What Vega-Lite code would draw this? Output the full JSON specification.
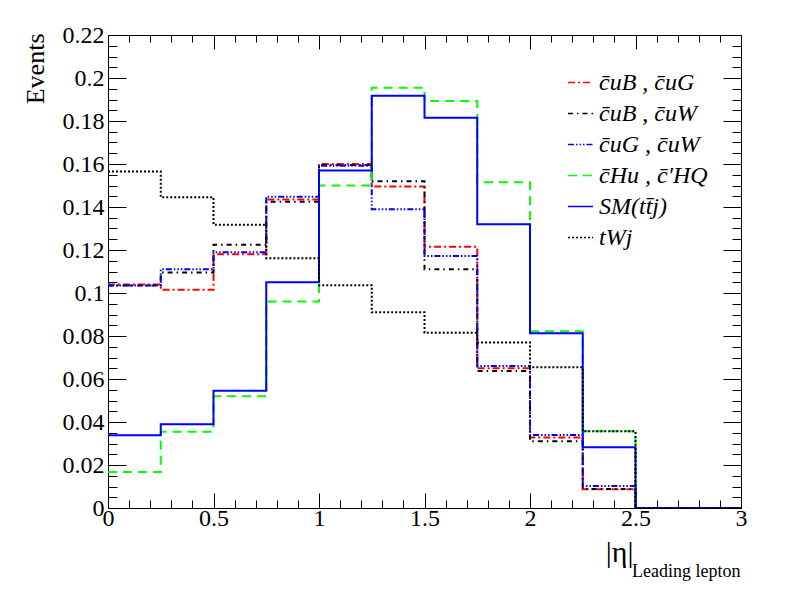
{
  "$schema": "https://vega.github.io/schema/vega-lite/v6.json",
  "autosize": {"type": "none"},
  "width": 633,
  "height": 473,
  "padding": {"left": 108, "top": 35, "right": 47, "bottom": 81},
  "background": "white",
  "config": {
    "view": {"stroke": "black", "strokeWidth": 1},
    "font": "Liberation Serif",
    "axis": {
      "domain": false,
      "grid": false,
      "tickColor": "black",
      "tickWidth": 1,
      "labelFont": "Liberation Serif",
      "labelFontSize": 24,
      "labelColor": "black",
      "titleFont": "Liberation Serif",
      "titleFontWeight": "normal",
      "titleColor": "black"
    },
    "legend": {
      "labelFont": "Liberation Serif",
      "labelFontStyle": "italic",
      "labelFontSize": 24,
      "labelColor": "black"
    }
  },
  "data": {
    "values": [
      {"s": "c̄uB , c̄uG", "x": 0, "y": 0.104},
      {"s": "c̄uB , c̄uG", "x": 0.25, "y": 0.1015},
      {"s": "c̄uB , c̄uG", "x": 0.5, "y": 0.118},
      {"s": "c̄uB , c̄uG", "x": 0.75, "y": 0.1435},
      {"s": "c̄uB , c̄uG", "x": 1.0, "y": 0.16},
      {"s": "c̄uB , c̄uG", "x": 1.25, "y": 0.1495},
      {"s": "c̄uB , c̄uG", "x": 1.5, "y": 0.1215},
      {"s": "c̄uB , c̄uG", "x": 1.75, "y": 0.065},
      {"s": "c̄uB , c̄uG", "x": 2.0, "y": 0.0328},
      {"s": "c̄uB , c̄uG", "x": 2.25, "y": 0.0087},
      {"s": "c̄uB , c̄uG", "x": 2.5, "y": 0},
      {"s": "c̄uB , c̄uG", "x": 2.75, "y": 0},
      {"s": "c̄uB , c̄uG", "x": 3.0, "y": 0},

      {"s": "c̄uB , c̄uW", "x": 0, "y": 0.1035},
      {"s": "c̄uB , c̄uW", "x": 0.25, "y": 0.1095},
      {"s": "c̄uB , c̄uW", "x": 0.5, "y": 0.1225},
      {"s": "c̄uB , c̄uW", "x": 0.75, "y": 0.1425},
      {"s": "c̄uB , c̄uW", "x": 1.0, "y": 0.1595},
      {"s": "c̄uB , c̄uW", "x": 1.25, "y": 0.152},
      {"s": "c̄uB , c̄uW", "x": 1.5, "y": 0.111},
      {"s": "c̄uB , c̄uW", "x": 1.75, "y": 0.0637},
      {"s": "c̄uB , c̄uW", "x": 2.0, "y": 0.031},
      {"s": "c̄uB , c̄uW", "x": 2.25, "y": 0.0088},
      {"s": "c̄uB , c̄uW", "x": 2.5, "y": 0},
      {"s": "c̄uB , c̄uW", "x": 2.75, "y": 0},
      {"s": "c̄uB , c̄uW", "x": 3.0, "y": 0},

      {"s": "c̄uG , c̄uW", "x": 0, "y": 0.1035},
      {"s": "c̄uG , c̄uW", "x": 0.25, "y": 0.111},
      {"s": "c̄uG , c̄uW", "x": 0.5, "y": 0.119},
      {"s": "c̄uG , c̄uW", "x": 0.75, "y": 0.1448},
      {"s": "c̄uG , c̄uW", "x": 1.0, "y": 0.1592},
      {"s": "c̄uG , c̄uW", "x": 1.25, "y": 0.139},
      {"s": "c̄uG , c̄uW", "x": 1.5, "y": 0.1172},
      {"s": "c̄uG , c̄uW", "x": 1.75, "y": 0.066},
      {"s": "c̄uG , c̄uW", "x": 2.0, "y": 0.034},
      {"s": "c̄uG , c̄uW", "x": 2.25, "y": 0.0102},
      {"s": "c̄uG , c̄uW", "x": 2.5, "y": 0},
      {"s": "c̄uG , c̄uW", "x": 2.75, "y": 0},
      {"s": "c̄uG , c̄uW", "x": 3.0, "y": 0},

      {"s": "c̄Hu , c̄′HQ", "x": 0, "y": 0.0167},
      {"s": "c̄Hu , c̄′HQ", "x": 0.25, "y": 0.0355},
      {"s": "c̄Hu , c̄′HQ", "x": 0.5, "y": 0.052},
      {"s": "c̄Hu , c̄′HQ", "x": 0.75, "y": 0.096},
      {"s": "c̄Hu , c̄′HQ", "x": 1.0, "y": 0.15},
      {"s": "c̄Hu , c̄′HQ", "x": 1.25, "y": 0.1955},
      {"s": "c̄Hu , c̄′HQ", "x": 1.5, "y": 0.1893},
      {"s": "c̄Hu , c̄′HQ", "x": 1.75, "y": 0.1515},
      {"s": "c̄Hu , c̄′HQ", "x": 2.0, "y": 0.0822},
      {"s": "c̄Hu , c̄′HQ", "x": 2.25, "y": 0.0357},
      {"s": "c̄Hu , c̄′HQ", "x": 2.5, "y": 0},
      {"s": "c̄Hu , c̄′HQ", "x": 2.75, "y": 0},
      {"s": "c̄Hu , c̄′HQ", "x": 3.0, "y": 0},

      {"s": "SM(tt̄j)", "x": 0, "y": 0.0338},
      {"s": "SM(tt̄j)", "x": 0.25, "y": 0.039},
      {"s": "SM(tt̄j)", "x": 0.5, "y": 0.0545},
      {"s": "SM(tt̄j)", "x": 0.75, "y": 0.105},
      {"s": "SM(tt̄j)", "x": 1.0, "y": 0.157},
      {"s": "SM(tt̄j)", "x": 1.25, "y": 0.1918},
      {"s": "SM(tt̄j)", "x": 1.5, "y": 0.1815},
      {"s": "SM(tt̄j)", "x": 1.75, "y": 0.132},
      {"s": "SM(tt̄j)", "x": 2.0, "y": 0.0813},
      {"s": "SM(tt̄j)", "x": 2.25, "y": 0.0283},
      {"s": "SM(tt̄j)", "x": 2.5, "y": 0},
      {"s": "SM(tt̄j)", "x": 2.75, "y": 0},
      {"s": "SM(tt̄j)", "x": 3.0, "y": 0},

      {"s": "tWj", "x": 0, "y": 0.1565},
      {"s": "tWj", "x": 0.25, "y": 0.1445},
      {"s": "tWj", "x": 0.5, "y": 0.1318},
      {"s": "tWj", "x": 0.75, "y": 0.1162},
      {"s": "tWj", "x": 1.0, "y": 0.1036},
      {"s": "tWj", "x": 1.25, "y": 0.091},
      {"s": "tWj", "x": 1.5, "y": 0.0815},
      {"s": "tWj", "x": 1.75, "y": 0.077},
      {"s": "tWj", "x": 2.0, "y": 0.0655},
      {"s": "tWj", "x": 2.25, "y": 0.0357},
      {"s": "tWj", "x": 2.5, "y": 0},
      {"s": "tWj", "x": 2.75, "y": 0},
      {"s": "tWj", "x": 3.0, "y": 0}
    ]
  },
  "resolve": {"axis": {"x": "independent", "y": "independent"}},
  "layer": [
    {
      "mark": {"type": "line", "interpolate": "step-after", "strokeWidth": 2, "clip": true},
      "encoding": {
        "x": {
          "field": "x", "type": "quantitative",
          "scale": {"domain": [0, 3], "nice": false, "zero": false},
          "axis": {
            "orient": "bottom",
            "values": [0,0.1,0.2,0.3,0.4,0.5,0.6,0.7,0.8,0.9,1,1.1,1.2,1.3,1.4,1.5,1.6,1.7,1.8,1.9,2,2.1,2.2,2.3,2.4,2.5,2.6,2.7,2.8,2.9,3],
            "format": "~g",
            "labelExpr": "abs(datum.value*2 - round(datum.value*2)) < 0.001 ? datum.label : ''",
            "tickSize": {"condition": {"test": "abs(datum.value*2 - round(datum.value*2)) < 0.001", "value": -15}, "value": -8},
            "labelFont": "Liberation Serif",
            "labelFontSize": 24,
            "labelPadding": 13,
            "labelFlush": false,
            "labelOverlap": false,
            "title": "|η|",
            "titleFontSize": 30,
            "titleAlign": "right",
            "titleAnchor": null,
            "titleBaseline": "alphabetic",
            "titleX": 525,
            "titleY": 53
          }
        },
        "y": {
          "field": "y", "type": "quantitative",
          "scale": {"domain": [0, 0.22], "nice": false},
          "axis": {
            "orient": "left",
            "values": [0,0.005,0.01,0.015,0.02,0.025,0.03,0.035,0.04,0.045,0.05,0.055,0.06,0.065,0.07,0.075,0.08,0.085,0.09,0.095,0.1,0.105,0.11,0.115,0.12,0.125,0.13,0.135,0.14,0.145,0.15,0.155,0.16,0.165,0.17,0.175,0.18,0.185,0.19,0.195,0.2,0.205,0.21,0.215,0.22],
            "format": "~g",
            "labelExpr": "abs(datum.value*50 - round(datum.value*50)) < 0.001 ? datum.label : ''",
            "tickSize": {"condition": {"test": "abs(datum.value*50 - round(datum.value*50)) < 0.001", "value": -18}, "value": -9},
            "labelFont": "Liberation Serif",
            "labelFontSize": 24,
            "labelPadding": 22,
            "labelFlush": false,
            "labelOverlap": false,
            "title": "Events",
            "titleFontSize": 26,
            "titleAngle": -90,
            "titleAlign": "right",
            "titleAnchor": null,
            "titleBaseline": "alphabetic",
            "titleX": -65,
            "titleY": -2
          }
        },
        "color": {
          "field": "s", "type": "nominal",
          "scale": {
            "domain": ["c̄uB , c̄uG", "c̄uB , c̄uW", "c̄uG , c̄uW", "c̄Hu , c̄′HQ", "SM(tt̄j)", "tWj"],
            "range": ["#ff0000", "#000000", "#0000ff", "#00ff00", "#0000ff", "#000000"]
          },
          "legend": {
            "title": null,
            "orient": "none",
            "legendX": 459,
            "legendY": 34,
            "symbolType": "stroke",
            "symbolSize": 625,
            "symbolStrokeWidth": 1.5,
            "labelOffset": 5,
            "rowPadding": 5
          }
        },
        "strokeDash": {
          "field": "s", "type": "nominal",
          "scale": {
            "domain": ["c̄uB , c̄uG", "c̄uB , c̄uW", "c̄uG , c̄uW", "c̄Hu , c̄′HQ", "SM(tt̄j)", "tWj"],
            "range": [[7,3,2,3], [5,4,1.5,4], [6,2,1.5,2,1.5,2,1.5,2], [9,6], [1,0], [2,2]]
          },
          "legend": {
            "title": null,
            "orient": "none",
            "legendX": 459,
            "legendY": 34,
            "symbolType": "stroke",
            "symbolSize": 625,
            "symbolStrokeWidth": 1.5,
            "labelOffset": 5,
            "rowPadding": 5
          }
        }
      }
    },
    {
      "mark": {"type": "line", "interpolate": "step-after", "strokeOpacity": 0},
      "encoding": {
        "x": {
          "field": "x", "type": "quantitative",
          "axis": {
            "orient": "top",
            "values": [0,0.1,0.2,0.3,0.4,0.5,0.6,0.7,0.8,0.9,1,1.1,1.2,1.3,1.4,1.5,1.6,1.7,1.8,1.9,2,2.1,2.2,2.3,2.4,2.5,2.6,2.7,2.8,2.9,3],
            "labels": false,
            "tickSize": {"condition": {"test": "abs(datum.value*2 - round(datum.value*2)) < 0.001", "value": -14}, "value": -7},
            "title": "Leading lepton",
            "titleFontSize": 18,
            "titleAlign": "right",
            "titleAnchor": null,
            "titleBaseline": "alphabetic",
            "titleX": 632,
            "titleY": 541
          }
        },
        "y": {
          "field": "y", "type": "quantitative",
          "axis": {
            "orient": "right",
            "values": [0,0.005,0.01,0.015,0.02,0.025,0.03,0.035,0.04,0.045,0.05,0.055,0.06,0.065,0.07,0.075,0.08,0.085,0.09,0.095,0.1,0.105,0.11,0.115,0.12,0.125,0.13,0.135,0.14,0.145,0.15,0.155,0.16,0.165,0.17,0.175,0.18,0.185,0.19,0.195,0.2,0.205,0.21,0.215,0.22],
            "labels": false,
            "tickSize": {"condition": {"test": "abs(datum.value*50 - round(datum.value*50)) < 0.001", "value": -18}, "value": -9},
            "title": null
          }
        }
      }
    }
  ]
}
